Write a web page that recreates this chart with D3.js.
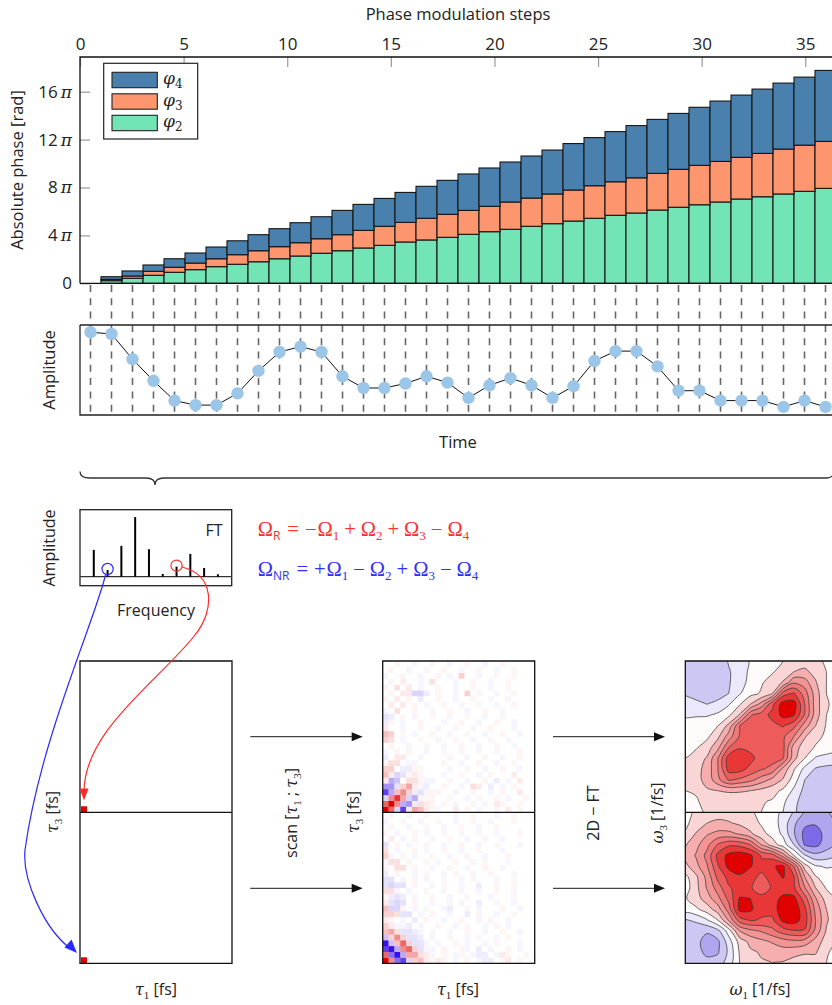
<!DOCTYPE html>
<html>
<head>
<meta charset="utf-8">
<script src="https://cdn.jsdelivr.net/npm/d3@7"></script>
<style>
  body { margin: 0; background: #fff; }
  svg text { font-family: "Open Sans", sans-serif; fill: #222; }
</style>
</head>
<body>
<script>
// ---- data ----
var stepTicks = [0, 5, 10, 15, 20, 25, 30, 35];
var phaseTicks = [0, 4, 8, 12, 16];           // in units of pi
var phi2 = [0, 0.22, 0.42, 0.67, 0.92, 1.14, 1.39, 1.59, 1.80, 2.05, 2.28, 2.51, 2.72, 2.95, 3.17, 3.45, 3.62, 3.84, 4.09, 4.31, 4.51, 4.76, 4.98, 5.20, 5.43, 5.68, 5.87, 6.12, 6.35, 6.56, 6.79, 7.04, 7.23, 7.46, 7.68, 7.93];
var phi3 = [0, 0.11, 0.19, 0.33, 0.42, 0.55, 0.66, 0.80, 0.92, 1.01, 1.11, 1.21, 1.34, 1.47, 1.59, 1.64, 1.81, 1.92, 2.00, 2.12, 2.28, 2.36, 2.48, 2.59, 2.72, 2.80, 2.94, 3.06, 3.17, 3.29, 3.39, 3.48, 3.62, 3.75, 3.86, 3.92];
var phi4 = [0, 0.22, 0.42, 0.53, 0.71, 0.84, 0.98, 1.16, 1.34, 1.50, 1.67, 1.84, 2.03, 2.17, 2.33, 2.50, 2.67, 2.84, 3.04, 3.20, 3.34, 3.51, 3.67, 3.88, 4.02, 4.19, 4.36, 4.51, 4.67, 4.85, 5.04, 5.20, 5.37, 5.51, 5.68, 5.93];
var amplitude = [0.92, 0.90, 0.62, 0.38, 0.16, 0.11, 0.11, 0.24, 0.49, 0.70, 0.76, 0.70, 0.43, 0.30, 0.30, 0.35, 0.43, 0.36, 0.19, 0.33, 0.41, 0.33, 0.19, 0.32, 0.60, 0.71, 0.71, 0.54, 0.27, 0.27, 0.16, 0.16, 0.16, 0.09, 0.16, 0.09];
var ftAmplitude = [0.40, 0.10, 0.46, 0.89, 0.41, 0.04, 0.15, 0.34, 0.13, 0.036];
var ftPicked = [{k: 1, color: "#2a2aff"}, {k: 6, color: "#ff2a2a"}];
var eqR = ["\u2212", "+", "+", "\u2212"];
var eqNR = ["+", "\u2212", "+", "\u2212"];

// time-domain signal, 26 x 26 per half, row 0 = bottom; key below
var heatKey = {".": 0, "1": .04, "2": .08, "3": .12, "4": .18, "5": .25, "6": .35, "7": .45, "8": .6, "9": .8, "X": 1,
               "a": -.04, "b": -.08, "c": -.12, "d": -.18, "e": -.25, "f": -.35, "g": -.45, "h": -.6, "i": -.8, "Z": -1};
var signalR = [
  "X8dib65211..2.1.a..1.2.1..", "8X7fgb321.1.a..1.a.21..1..", "d796dfa11..1..a.1..1.a..1.",
  "if574bca11..a..1..a.1..2..", "ggc462ab..1..a.32.b.a.1...", "2fe.331aa..1..a..1.b.a.2..",
  "52dc121...a..1..a.1...2...", "44.bb11....a..1..a..1..a..", "133.aa....1..a..1..a..1...",
  "b.22..a....1..a..1..a..1..", "a.1.1..a..1..a..1..a...1..", ".1..a..1..a..1..a..1..a...",
  "43.a..1..a..1..a..1..a....", "54.1.a..1..a..1..a..1..a..", "2..a..1..a..1..a..1...a...",
  "b1.a..1...a..1..a..1..a...", "cb.1.a..1..a..1..a..1.....", "a.3..1..a..1..a..1..a.....",
  ".2.2.1.a..1..a..1..a..1...", "1.2.1.b..1..a..1..a..1....", ".1.22ddb.1..a.4.1..a..1...",
  "1.3.2.a..1..a..1..a..1....", ".1.2..a.3...a..1..a..1....", "a..1..a..1.a.4..a..1..1...",
  ".1..a..1..1..a..1..a..1...", "..1..a..1..a..1..a..1....."];
var signalNR = [
  "X7hid452121.a.1.abb.12.1..", "8hZf6632a.1.a1.abb.a21..1.", "iZf784caa.1..1a.b.a..1.a..",
  "Ze584cca.a..1.a..a.1...a..", "e474ccb.a..1..a.1..a.1....", "563ccba.1..a..1..a..1..a..",
  "42aab.a..1..a.1..a.1.a....", "21.a.b.1..a..1..a.1..a....", "443cc.a.1..a..b.1..a..1...",
  "5dd1.a.1..ab..1.a...1..a..", "2cdc.1..a..1.a..b..1..a...", "1bcb.a..1..a..1...a...1...",
  "33a.a..1..a..1..a..1..a...", "cdcc.1..a.1..a..b..1..1...", "cc.a.1.a..1..a.1...a..1...",
  "b.1..a.1..a.1..a..1...a...", "1.33.1..a..1..a..1..a.....", "a33.1..1.a..1..a.1...a....",
  "4a.1.a..1..a..1..a...1....", "3.a..1.a..1..a..1...a.....", "c.1.a..1..a..1..a..1...a..",
  ".2.a.1..a..1..a..1..a.....", "1.a..1.a..1..a..1..a...1..", ".1..a..1..a..1..a..1......",
  "a..1..a..1..a..1..a...1...", ".1..a..1....a..1...a..1..."];

// 2D spectra, 15 x 15 samples per half, row 0 = top (contour levels)
var spectrumR = [
  [-2.3, -2.3, -2.2, -2.0, -1.4, -1.0, -0.4, 0.0, 0.3, 0.5, 0.9, 1.1, 0.8, 0.3, 0.0],
  [-2.3, -2.4, -2.3, -2.0, -1.6, -1.0, -0.3, 0.2, 0.4, 0.9, 1.5, 1.7, 1.2, 0.5, 0.2],
  [-2.2, -2.3, -2.2, -2.0, -1.6, -0.9, -0.2, 0.4, 0.9, 1.6, 3.4, 3.0, 1.6, 0.5, 0.2],
  [-1.6, -1.8, -1.9, -1.8, -1.5, -0.6, 0.2, 0.6, 1.4, 5.0, 5.6, 4.0, 2.0, 0.5, 0.2],
  [-1.1, -1.3, -1.5, -1.3, -0.6, 0.4, 1.5, 2.9, 5.2, 7.0, 7.0, 4.5, 2.0, 0.6, 0.2],
  [-0.6, -0.6, -0.6, -0.3, 0.3, 1.6, 4.4, 5.0, 5.8, 6.8, 6.6, 4.4, 2.0, 0.5, 0.2],
  [-0.2, 0.0, 0.2, 0.5, 1.8, 4.5, 5.0, 5.1, 5.2, 5.6, 4.8, 3.0, 1.5, 0.4, 0.1],
  [0.0, 0.1, 0.3, 1.3, 3.0, 4.6, 5.0, 5.1, 5.0, 4.7, 3.5, 1.6, 0.8, 0.3, 0.1],
  [0.2, 0.4, 1.0, 2.2, 4.5, 5.4, 5.2, 5.0, 5.0, 4.8, 2.0, 1.0, 0.4, 0.0, -0.1],
  [0.5, 1.0, 1.6, 3.5, 6.0, 6.3, 5.8, 5.0, 4.9, 4.6, 1.8, 0.5, -0.6, -0.8, -0.9],
  [0.8, 1.2, 1.8, 3.5, 5.9, 5.9, 5.2, 4.6, 4.2, 2.2, 0.6, -0.8, -1.6, -1.8, -1.8],
  [0.8, 1.2, 1.8, 3.2, 4.6, 4.3, 3.8, 3.0, 2.2, 1.4, 0.0, -1.5, -2.2, -2.3, -2.3],
  [0.5, 0.6, 1.4, 1.5, 1.6, 1.6, 1.5, 1.2, 0.9, 0.3, -0.7, -1.8, -2.3, -2.4, -2.4],
  [0.2, 0.4, 0.8, 1.0, 1.0, 0.9, 0.8, 0.6, 0.4, -0.3, -1.2, -2.0, -2.4, -2.4, -2.3],
  [0.1, 0.3, 0.6, 0.8, 0.8, 0.7, 0.6, 0.5, 0.2, -0.5, -1.3, -2.0, -2.3, -2.3, -2.2]];
var spectrumNR = [
  [0.3, 0.6, 1.0, 1.1, 1.0, 0.8, 0.6, 0.3, -0.1, -0.7, -1.6, -2.6, -2.8, -2.6, -2.2],
  [0.3, 0.9, 1.5, 1.7, 1.6, 1.3, 0.9, 0.4, 0.0, -0.9, -2.3, -3.3, -3.4, -2.9, -2.4],
  [0.6, 1.6, 2.4, 2.8, 2.8, 2.4, 1.7, 0.8, 0.2, -0.7, -2.4, -3.8, -3.9, -3.2, -2.5],
  [1.4, 2.2, 3.2, 4.6, 5.3, 5.2, 4.5, 2.5, 1.0, 0.0, -1.5, -3.6, -3.8, -3.0, -2.3],
  [1.8, 2.6, 3.8, 5.8, 6.8, 7.1, 6.7, 5.4, 5.0, 3.0, 0.5, -1.4, -2.2, -2.0, -1.6],
  [1.2, 2.2, 3.4, 5.4, 6.8, 7.2, 6.6, 5.8, 6.4, 6.7, 4.5, 1.0, -0.4, -0.6, -0.5],
  [0.2, 1.3, 2.8, 4.8, 5.8, 6.3, 5.8, 5.3, 5.8, 6.6, 5.6, 2.5, 0.6, 0.0, 0.0],
  [0.0, 1.2, 2.6, 4.0, 5.4, 5.8, 5.6, 5.0, 5.6, 5.9, 5.7, 3.6, 1.5, 0.4, 0.2],
  [0.4, 1.1, 2.0, 3.2, 4.8, 6.6, 6.5, 5.8, 6.0, 6.8, 6.8, 5.0, 2.6, 1.0, 0.5],
  [0.0, 0.3, 1.0, 2.0, 4.0, 6.8, 6.7, 5.8, 5.9, 7.2, 7.2, 5.8, 3.2, 1.5, 0.8],
  [-1.6, -1.3, -0.6, 0.5, 2.6, 5.0, 5.6, 5.4, 5.3, 6.8, 7.0, 6.0, 3.5, 1.6, 1.0],
  [-2.0, -2.2, -2.4, -1.8, 0.0, 2.5, 3.2, 3.6, 4.2, 5.0, 5.4, 5.4, 3.2, 1.4, 0.8],
  [-2.0, -2.3, -2.8, -2.7, -1.0, 0.9, 1.8, 2.2, 2.6, 3.0, 3.2, 3.0, 2.1, 1.0, 0.5],
  [-1.9, -2.2, -2.7, -2.6, -1.3, 0.6, 1.3, 1.6, 1.8, 2.0, 1.8, 1.6, 1.6, 0.6, 0.2],
  [-1.7, -2.0, -2.2, -2.0, -1.0, 0.5, 1.1, 1.4, 1.5, 1.4, 1.1, 1.0, 1.0, 0.5, 0.2]];
var redLevels = [0.5, 1.5, 2.5, 3.5, 4.5, 5.5, 6.5];
var redFills = ["#f9d6d5", "#f5adad", "#f29494", "#ef7878", "#ee5b5b", "#e93737", "#e00000"];
var blueLevels = [0.5, 1.5, 2.5, 3.5];      // on the negated field
var blueFills = ["#eae8fa", "#cdc8f3", "#aea6ef", "#7b6be8"];

var svg = d3.select("body").append("svg").attr("width", 832).attr("height", 1005);
var serif = "'Liberation Serif', serif";
var greek = "'DejaVu Serif', serif";

// ---- absolute phase stacked bars ----
var xTick = d3.scaleLinear().domain([0, 36]).range([80, 826]);
var xBar = d3.scaleLinear().domain([0, 36]).range([80, 836]);
var yPhase = d3.scaleLinear().domain([0, 18.9]).range([283.3, 57]);

var table = phi2.map(function (v, i) { return {step: i, p2: v, p3: phi3[i], p4: phi4[i]}; });
var layers = d3.stack().keys(["p2", "p3", "p4"])(table);
var barColors = {p2: "#73e4b5", p3: "#fd956f", p4: "#4a80ad"};

svg.append("g").selectAll("g").data(layers).enter().append("g")
    .attr("fill", function (d) { return barColors[d.key]; })
  .selectAll("rect").data(function (d) { return d; }).enter().append("rect")
    .attr("x", function (d) { return xBar(d.data.step); })
    .attr("width", xBar(1) - xBar(0))
    .attr("y", function (d) { return yPhase(d[1]); })
    .attr("height", function (d) { return yPhase(d[0]) - yPhase(d[1]); })
    .attr("stroke", "#151515").attr("stroke-width", 1.1);

var topAxis = svg.append("g").attr("transform", "translate(0,57)")
    .call(d3.axisTop(xTick).tickValues(stepTicks).tickSizeInner(-10).tickSizeOuter(0).tickPadding(7));
var leftAxis = svg.append("g").attr("transform", "translate(80,0)")
    .call(d3.axisLeft(yPhase).tickValues(phaseTicks).tickSizeInner(-10).tickSizeOuter(0).tickPadding(8));
[topAxis, leftAxis].forEach(function (a) {
  a.select(".domain").remove();
  a.selectAll(".tick line").attr("stroke", "#9a9a9a").attr("stroke-width", 1.2);
  a.selectAll(".tick text").style("font-size", "17px").style("font-family", "'Open Sans', sans-serif").attr("fill", null);
});
leftAxis.selectAll(".tick text").each(function (d) {
  var t = d3.select(this).text(d);
  if (d > 0) t.append("tspan").attr("dx", 3).style("font-family", greek).style("font-style", "italic").text("\u03c0");
});
svg.append("path").attr("d", "M80,283.3V57H832M80,283.3H832").attr("fill", "none").attr("stroke", "#111").attr("stroke-width", 1.3);

svg.append("text").attr("x", 458).attr("y", 20).attr("text-anchor", "middle").style("font-size", "16.5px").text("Phase modulation steps");
svg.append("text").attr("transform", "translate(23,170) rotate(-90)").attr("text-anchor", "middle").style("font-size", "16.5px").text("Absolute phase [rad]");

// legend
var legend = svg.append("g");
legend.append("rect").attr("x", 103.7).attr("y", 63.3).attr("width", 94).attr("height", 75.7)
    .attr("fill", "#fff").attr("stroke", "#222").attr("stroke-width", 1.2);
["p4", "p3", "p2"].forEach(function (k, i) {
  var y = 72.3 + i * 21.5;
  legend.append("rect").attr("x", 112).attr("y", y).attr("width", 45.3).attr("height", 15.4)
      .attr("fill", barColors[k]).attr("stroke", "#222").attr("stroke-width", 1.1);
  var t = legend.append("text").attr("x", 163).attr("y", y + 12).style("font-family", greek).style("font-size", "17px");
  t.append("tspan").style("font-style", "italic").text("\u03c6");
  t.append("tspan").attr("dy", 4).style("font-size", "12px").text(k.slice(1));
});

// ---- amplitude vs time ----
var yAmp = d3.scaleLinear().domain([0, 1]).range([415, 325]);
svg.append("g").selectAll("line").data(amplitude).enter().append("line")
    .attr("x1", function (d, i) { return xBar(i + 0.5); })
    .attr("x2", function (d, i) { return xBar(i + 0.5); })
    .attr("y1", 285).attr("y2", 415)
    .attr("stroke", "#666").attr("stroke-width", 1.6).attr("stroke-dasharray", "7,6.3");
svg.append("path").attr("d", "M80,325H832M80,325V415H832").attr("fill", "none").attr("stroke", "#222").attr("stroke-width", 1.3);
svg.append("path").datum(amplitude)
    .attr("d", d3.line().x(function (d, i) { return xBar(i + 0.5); }).y(function (d) { return yAmp(d); }))
    .attr("fill", "none").attr("stroke", "#111").attr("stroke-width", 1);
svg.append("g").selectAll("circle").data(amplitude).enter().append("circle")
    .attr("cx", function (d, i) { return xBar(i + 0.5); })
    .attr("cy", function (d) { return yAmp(d); })
    .attr("r", 6.2).attr("fill", "#9cc6e8");
svg.append("text").attr("transform", "translate(55,370) rotate(-90)").attr("text-anchor", "middle").style("font-size", "16.5px").text("Amplitude");
svg.append("text").attr("x", 458).attr("y", 448).attr("text-anchor", "middle").style("font-size", "16.5px").text("Time");

// brace
svg.append("path")
    .attr("d", "M80,471.5C80,476 83,478 90,478H146C151,478 155,480 155,485C155,480 159,478 164,478H826C830,478 834,476 834,471.5")
    .attr("fill", "none").attr("stroke", "#333").attr("stroke-width", 1.3);

// ---- FT inset ----
var xFt = d3.scaleLinear().domain([0, 11]).range([80, 231.7]);
var yFt = d3.scaleLinear().domain([0, 1]).range([576.7, 509.7]);
svg.append("rect").attr("x", 80).attr("y", 509.7).attr("width", 151.7).attr("height", 76)
    .attr("fill", "#fff").attr("stroke", "#222").attr("stroke-width", 1.3);
svg.append("line").attr("x1", 80).attr("x2", 231.7).attr("y1", yFt(0)).attr("y2", yFt(0)).attr("stroke", "#333").attr("stroke-width", 1.2);
svg.append("g").selectAll("line").data(ftAmplitude).enter().append("line")
    .attr("x1", function (d, i) { return xFt(i + 1); }).attr("x2", function (d, i) { return xFt(i + 1); })
    .attr("y1", yFt(0)).attr("y2", function (d) { return yFt(d); })
    .attr("stroke", "#000").attr("stroke-width", 2);
svg.append("g").selectAll("circle").data(ftPicked).enter().append("circle")
    .attr("cx", function (d) { return xFt(d.k + 1); })
    .attr("cy", function (d) { return yFt(ftAmplitude[d.k]) - 1; })
    .attr("r", 5.6).attr("fill", "none").attr("stroke", function (d) { return d.color; }).attr("stroke-width", 1.2);
svg.append("text").attr("x", 222.7).attr("y", 535.5).attr("text-anchor", "end").style("font-size", "16px").text("FT");
svg.append("text").attr("transform", "translate(55,548) rotate(-90)").attr("text-anchor", "middle").style("font-size", "16px").text("Amplitude");
svg.append("text").attr("x", 156).attr("y", 616).attr("text-anchor", "middle").style("font-size", "16px").text("Frequency");

function equation(y, color, label, signs) {
  var t = svg.append("text").attr("x", 257.7).attr("y", y)
      .style("fill", color).style("font-family", serif).style("font-size", "20.5px");
  t.append("tspan").text("\u03a9");
  t.append("tspan").attr("dy", 4).style("font-family", "'Open Sans', sans-serif").style("font-size", "12px").style("fill", color).text(label);
  t.append("tspan").attr("dy", -4).attr("dx", 7).text("=");
  signs.forEach(function (s, i) {
    t.append("tspan").attr("dy", i === 0 ? 0 : -4).attr("dx", i === 0 ? 6 : 5).text(s);
    t.append("tspan").attr("dx", i === 0 ? 1 : 5).text("\u03a9");
    t.append("tspan").attr("dy", 4).style("font-size", "13px").text(i + 1);
  });
}
equation(536, "#ff3030", "R", eqR);
equation(576, "#3030ff", "NR", eqNR);

// ---- bottom row of panels ----
var panelTop = 661, panelMid = 812.3, panelBot = 963.3, panelW = 152;
function frame(x0) {
  svg.append("path").attr("d", "M" + x0 + "," + panelTop + "h" + panelW + "V" + panelBot + "H" + x0 + "Z" +
      "M" + x0 + "," + panelMid + "h" + panelW)
      .attr("fill", "none").attr("stroke", "#111").attr("stroke-width", 1.3);
}
function arrow(x1, x2, y) {
  svg.append("line").attr("x1", x1).attr("x2", x2 - 9).attr("y1", y).attr("y2", y).attr("stroke", "#444").attr("stroke-width", 1.3);
  svg.append("path").attr("d", "M" + x2 + "," + y + "l-11,-4.5v9Z").attr("fill", "#111");
}
function label(t, parts) {
  parts.forEach(function (p) {
    var s = t.append("tspan").text(p[0]);
    if (p[1] === "m") s.style("font-family", greek).style("font-style", "italic");
    if (p[1] === "s") s.attr("dy", 4).style("font-size", "11px").style("font-family", serif);
    if (p[1] === "u") s.attr("dy", -4);
  });
}
function vlabel(x, y, parts) {
  label(svg.append("text").attr("transform", "translate(" + x + "," + y + ") rotate(-90)").attr("text-anchor", "middle").style("font-size", "16px"), parts);
}
function hlabel(x, y, parts) {
  label(svg.append("text").attr("x", x).attr("y", y).attr("text-anchor", "middle").style("font-size", "16px"), parts);
}

// left: empty time grids with the selected pixel
svg.append("rect").attr("x", 81).attr("y", panelMid - 6).attr("width", 6).attr("height", 6).attr("fill", "#e00000");
svg.append("rect").attr("x", 81).attr("y", panelBot - 6).attr("width", 6).attr("height", 6).attr("fill", "#e00000");
frame(80);

// middle: sampled signals
var heatColor = d3.scaleLinear().domain([-1, 0, 1]).range(["#3a10e8", "#ffffff", "#e00000"]);
function heatmap(rows, x0, yTop, yBottom) {
  var cx = d3.scaleBand().domain(d3.range(26)).range([x0, x0 + panelW]);
  var cy = d3.scaleBand().domain(d3.range(26)).range([yBottom, yTop]);
  var cells = [];
  rows.forEach(function (row, r) {
    for (var c = 0; c < 26; c++) cells.push({r: r, c: c, v: heatKey[row.charAt(c)] || 0});
  });
  svg.append("g").selectAll("rect").data(cells).enter().append("rect")
      .attr("x", function (d) { return cx(d.c); })
      .attr("y", function (d) { return cy(d.r); })
      .attr("width", cx.bandwidth() + 0.3).attr("height", cy.bandwidth() + 0.3)
      .attr("fill", function (d) { return heatColor(d.v); });
}
heatmap(signalR, 382.7, panelTop, panelMid);
heatmap(signalNR, 382.7, panelMid, panelBot);
frame(382.7);

// right: 2D spectra as filled contours
var defs = svg.append("defs");
function spectrum(grid, id, x0, yTop, yBottom) {
  var m = grid.length, n = grid[0].length;
  defs.append("clipPath").attr("id", id).append("rect")
      .attr("x", x0).attr("y", yTop).attr("width", panelW).attr("height", yBottom - yTop);
  var sx = d3.scaleLinear().domain([0.5, n - 0.5]).range([x0, x0 + panelW]);
  var sy = d3.scaleLinear().domain([0.5, m - 0.5]).range([yTop, yBottom]);
  var ring = d3.line().x(function (p) { return sx(p[0]); }).y(function (p) { return sy(p[1]); })
      .curve(d3.curveCatmullRomClosed.alpha(0.5));
  function pathOf(mp) {
    return mp.coordinates.map(function (poly) {
      return poly.map(function (rg) { return ring(rg.slice(0, -1)); }).join("");
    }).join("");
  }
  var flat = [].concat.apply([], grid);
  var neg = flat.map(function (v) { return -v; });
  var gen = d3.contours().size([n, m]);
  var g = svg.append("g").attr("clip-path", "url(#" + id + ")");
  g.append("rect").attr("x", x0).attr("y", yTop).attr("width", panelW).attr("height", yBottom - yTop).attr("fill", "#fffbfa");
  blueLevels.forEach(function (t, k) {
    g.append("path").attr("d", pathOf(gen.contour(neg, t))).attr("fill", blueFills[k])
        .attr("fill-rule", "evenodd").attr("stroke", "#3a3a3a").attr("stroke-width", 0.75);
  });
  redLevels.forEach(function (t, k) {
    g.append("path").attr("d", pathOf(gen.contour(flat, t))).attr("fill", redFills[k])
        .attr("fill-rule", "evenodd").attr("stroke", "#3a3a3a").attr("stroke-width", 0.75);
  });
}
spectrum(spectrumR, "clipR", 685.3, panelTop, panelMid);
spectrum(spectrumNR, "clipNR", 685.3, panelMid, panelBot);
frame(685.3);

arrow(250.3, 362.7, 736.7);
arrow(250.3, 362.7, 888.3);
arrow(553, 665, 736.7);
arrow(553, 665, 888.3);

// curved arrows from the picked peaks into the time grids
svg.append("path").attr("d", "M105.5,575C95,620 40,740 25,850C22,880 45,930 71,949")
    .attr("fill", "none").attr("stroke", "#2a2aff").attr("stroke-width", 1.2);
svg.append("path").attr("d", "M77,953L64.5,947.5L71.5,939.5Z").attr("fill", "#2a2aff");
svg.append("path").attr("d", "M182,567C215,575 215,610 195,635C160,680 84,730 84,792")
    .attr("fill", "none").attr("stroke", "#ff2a2a").attr("stroke-width", 1.2);
svg.append("path").attr("d", "M84,800.5L79.5,788.5L88.5,788.5Z").attr("fill", "#ff2a2a");

vlabel(58, 812, [["\u03c4", "m"], ["3", "s"], [" [fs]", "u"]]);
vlabel(359, 812, [["\u03c4", "m"], ["3", "s"], [" [fs]", "u"]]);
vlabel(663, 813, [["\u03c9", "m"], ["3", "s"], [" [1/fs]", "u"]]);
vlabel(297, 813, [["scan [", ""], ["\u03c4", "m"], ["1", "s"], [" ; ", "u"], ["\u03c4", "m"], ["3", "s"], ["]", "u"]]);
vlabel(599, 813, [["2D \u2212 FT", ""]]);
hlabel(156, 995, [["\u03c4", "m"], ["1", "s"], [" [fs]", "u"]]);
hlabel(458, 995, [["\u03c4", "m"], ["1", "s"], [" [fs]", "u"]]);
hlabel(760, 995, [["\u03c9", "m"], ["1", "s"], [" [1/fs]", "u"]]);
</script>
</body>
</html>
